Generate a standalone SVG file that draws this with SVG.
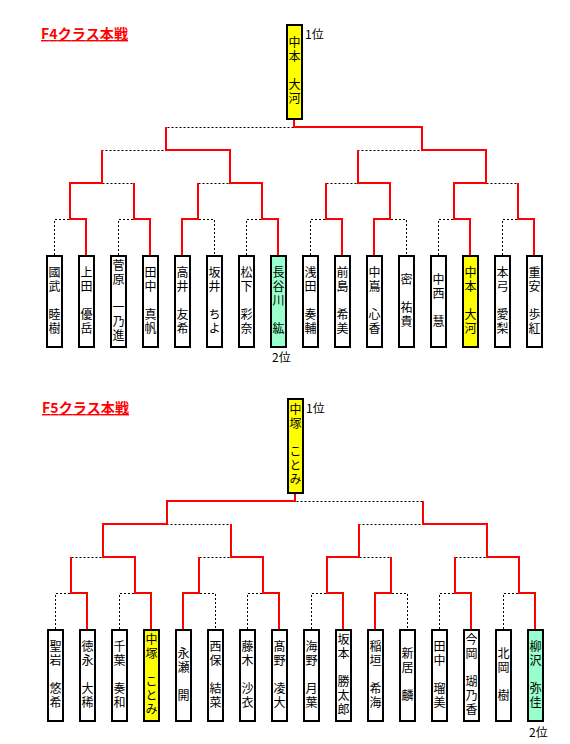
<svg xmlns="http://www.w3.org/2000/svg" width="570" height="744" viewBox="0 0 570 744">
<style>
.box{fill:#fff;stroke:#000;stroke-width:2}
.win{fill:#ffff00}
.sec{fill:#99ffcc}
.nm{font-family:"Noto Sans CJK JP","Noto Sans CJK SC",sans-serif;font-size:12px;fill:#000;writing-mode:vertical-rl;text-anchor:middle;letter-spacing:2px}
.dot{fill:none;stroke:#000;stroke-width:1;stroke-dasharray:2 2}
.red{fill:none;stroke:#f00;stroke-width:2}
.ttl{font-family:"Noto Sans CJK JP","Noto Sans CJK SC",sans-serif;font-size:14px;font-weight:bold;fill:#f00;text-decoration:underline}
.rk{font-family:"Noto Sans CJK JP","Noto Sans CJK SC",sans-serif;font-size:12px;fill:#000}
</style>
<rect width="570" height="744" fill="#fff"/>
<text class="ttl" x="41" y="39" textLength="87" lengthAdjust="spacing">F4クラス本戦</text>
<text class="ttl" x="42" y="413" textLength="87" lengthAdjust="spacing">F5クラス本戦</text>

<g id="connectors">
 <g id="f4-lines">
  <path class="dot" d="M54.5 255V219.5H86.5V255M118.5 255V219.5H150.5V255M182.5 255V219.5H214.5V255M246.5 255V219.5H278.5V255M310.5 255V219.5H342.5V255M374.5 255V219.5H406.5V255M438.5 255V219.5H470.5V255M502.5 255V219.5H534.5V255M70.5 219.5V183.5H134.5V219.5M198.5 219.5V183.5H262.5V219.5M326.5 219.5V183.5H390.5V219.5M454.5 219.5V183.5H518.5V219.5M102.5 183.5V150.5H230.5V183.5M358.5 183.5V150.5H486.5V183.5M166.5 150.5V127.5H422.5V150.5M294.5 127.5V120"/>
  <path class="red" d="M86 255V219H70V183H102V150"/>
  <path class="red" d="M150 255V219H134V183"/>
  <path class="red" d="M182 255V219H198V183"/>
  <path class="red" d="M278 255V219H262V183H230V150H166V127"/>
  <path class="red" d="M342 255V219H326V183"/>
  <path class="red" d="M374 255V219H390V183H358V150"/>
  <path class="red" d="M470 255V219H454V183H486V150H422V127H294V120"/>
  <path class="red" d="M534 255V219H518V183"/>
 </g>
 <g id="f5-lines" transform="translate(1,374)">
  <path class="dot" d="M54.5 255V219.5H86.5V255M118.5 255V219.5H150.5V255M182.5 255V219.5H214.5V255M246.5 255V219.5H278.5V255M310.5 255V219.5H342.5V255M374.5 255V219.5H406.5V255M438.5 255V219.5H470.5V255M502.5 255V219.5H534.5V255M70.5 219.5V183.5H134.5V219.5M198.5 219.5V183.5H262.5V219.5M326.5 219.5V183.5H390.5V219.5M454.5 219.5V183.5H518.5V219.5M102.5 183.5V150.5H230.5V183.5M358.5 183.5V150.5H486.5V183.5M166.5 150.5V127.5H422.5V150.5M294.5 127.5V120"/>
  <path class="red" d="M86 255V219H70V183"/>
  <path class="red" d="M150 255V219H134V183H102V150H166V127H294V120"/>
  <path class="red" d="M182 255V219H198V183"/>
  <path class="red" d="M278 255V219H262V183H230V150"/>
  <path class="red" d="M342 255V219H326V183H358V150"/>
  <path class="red" d="M374 255V219H390V183"/>
  <path class="red" d="M470 255V219H454V183"/>
  <path class="red" d="M534 255V219H518V183H486V150H422V127"/>
 </g>
</g>

<g id="f4">
 <g id="f4-champion"><rect class="box win" x="287" y="25" width="15" height="94"/><text class="nm" x="294.5" y="71">中本　大河</text><text class="rk" x="305" y="38.5">1位</text></g>
 <g id="f4-p1"><rect class="box" x="47" y="256" width="15" height="91"/><text class="nm" x="54.5" y="301">國武　睦樹</text></g>
 <g id="f4-p2"><rect class="box" x="79" y="256" width="15" height="91"/><text class="nm" x="86.5" y="301">上田　優岳</text></g>
 <g id="f4-p3"><rect class="box" x="111" y="256" width="15" height="91"/><text class="nm" x="118.5" y="301">菅原　一乃進</text></g>
 <g id="f4-p4"><rect class="box" x="143" y="256" width="15" height="91"/><text class="nm" x="150.5" y="301">田中　真帆</text></g>
 <g id="f4-p5"><rect class="box" x="175" y="256" width="15" height="91"/><text class="nm" x="182.5" y="301">高井　友希</text></g>
 <g id="f4-p6"><rect class="box" x="207" y="256" width="15" height="91"/><text class="nm" x="214.5" y="301">坂井　ちよ</text></g>
 <g id="f4-p7"><rect class="box" x="239" y="256" width="15" height="91"/><text class="nm" x="246.5" y="301">松下　彩奈</text></g>
 <g id="f4-p8"><rect class="box sec" x="271" y="256" width="15" height="91"/><text class="nm" x="278.5" y="301">長谷川　紘</text><text class="rk" x="272" y="362">2位</text></g>
 <g id="f4-p9"><rect class="box" x="303" y="256" width="15" height="91"/><text class="nm" x="310.5" y="301">浅田　奏輔</text></g>
 <g id="f4-p10"><rect class="box" x="335" y="256" width="15" height="91"/><text class="nm" x="342.5" y="301">前島　希美</text></g>
 <g id="f4-p11"><rect class="box" x="367" y="256" width="15" height="91"/><text class="nm" x="374.5" y="301">中嶌　心香</text></g>
 <g id="f4-p12"><rect class="box" x="399" y="256" width="15" height="91"/><text class="nm" x="406.5" y="301">密　祐貴</text></g>
 <g id="f4-p13"><rect class="box" x="431" y="256" width="15" height="91"/><text class="nm" x="438.5" y="301">中西　慧</text></g>
 <g id="f4-p14"><rect class="box win" x="463" y="256" width="15" height="91"/><text class="nm" x="470.5" y="301">中本　大河</text></g>
 <g id="f4-p15"><rect class="box" x="495" y="256" width="15" height="91"/><text class="nm" x="502.5" y="301">本弓　愛梨</text></g>
 <g id="f4-p16"><rect class="box" x="527" y="256" width="15" height="91"/><text class="nm" x="534.5" y="301">重安　歩紅</text></g>
</g>

<g id="f5">
 <g id="f5-champion"><rect class="box win" x="288" y="399" width="15" height="94"/><text class="nm" x="295.5" y="445">中塚　ことみ</text><text class="rk" x="306" y="412.5">1位</text></g>
 <g id="f5-p1"><rect class="box" x="48" y="630" width="15" height="91"/><text class="nm" x="55.5" y="675">聖岩　悠希</text></g>
 <g id="f5-p2"><rect class="box" x="80" y="630" width="15" height="91"/><text class="nm" x="87.5" y="675">徳永　大稀</text></g>
 <g id="f5-p3"><rect class="box" x="112" y="630" width="15" height="91"/><text class="nm" x="119.5" y="675">千葉　奏和</text></g>
 <g id="f5-p4"><rect class="box win" x="144" y="630" width="15" height="91"/><text class="nm" x="151.5" y="675">中塚　ことみ</text></g>
 <g id="f5-p5"><rect class="box" x="176" y="630" width="15" height="91"/><text class="nm" x="183.5" y="675">永瀬　開</text></g>
 <g id="f5-p6"><rect class="box" x="208" y="630" width="15" height="91"/><text class="nm" x="215.5" y="675">西保　結菜</text></g>
 <g id="f5-p7"><rect class="box" x="240" y="630" width="15" height="91"/><text class="nm" x="247.5" y="675">藤木　沙衣</text></g>
 <g id="f5-p8"><rect class="box" x="272" y="630" width="15" height="91"/><text class="nm" x="279.5" y="675">髙野　凌大</text></g>
 <g id="f5-p9"><rect class="box" x="304" y="630" width="15" height="91"/><text class="nm" x="311.5" y="675">海野　月葉</text></g>
 <g id="f5-p10"><rect class="box" x="336" y="630" width="15" height="91"/><text class="nm" x="343.5" y="675">坂本　勝太郎</text></g>
 <g id="f5-p11"><rect class="box" x="368" y="630" width="15" height="91"/><text class="nm" x="375.5" y="675">稲垣　希海</text></g>
 <g id="f5-p12"><rect class="box" x="400" y="630" width="15" height="91"/><text class="nm" x="407.5" y="675">新居　麟</text></g>
 <g id="f5-p13"><rect class="box" x="432" y="630" width="15" height="91"/><text class="nm" x="439.5" y="675">田中　瑠美</text></g>
 <g id="f5-p14"><rect class="box" x="464" y="630" width="15" height="91"/><text class="nm" x="471.5" y="675">今岡　瑚乃香</text></g>
 <g id="f5-p15"><rect class="box" x="496" y="630" width="15" height="91"/><text class="nm" x="503.5" y="675">北岡　樹</text></g>
 <g id="f5-p16"><rect class="box sec" x="528" y="630" width="15" height="91"/><text class="nm" x="535.5" y="675">柳沢　弥佳</text><text class="rk" x="529" y="736.5">2位</text></g>
</g>
</svg>
